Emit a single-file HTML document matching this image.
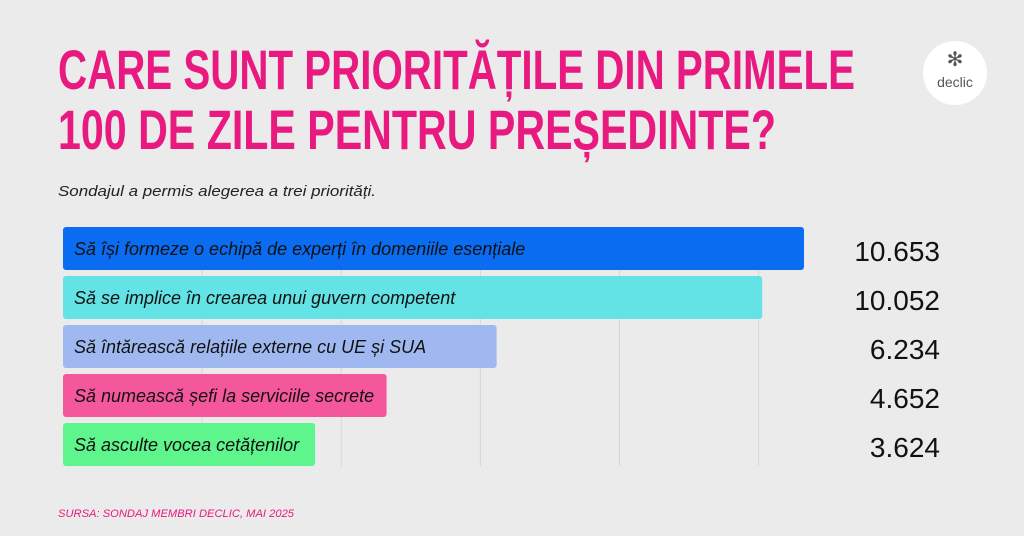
<!DOCTYPE html>
<html><head><meta charset="utf-8">
<style>
html,body{margin:0;padding:0;background:#ebebeb;}
svg{display:block;}
</style></head>
<body>
<svg id="chart" width="1024" height="536" xmlns="http://www.w3.org/2000/svg" font-family="'Liberation Sans', sans-serif">
<rect width="1024" height="536" fill="#ebebeb"/>
<text x="58" y="89" font-size="56" font-weight="bold" fill="#e8197f" textLength="797" lengthAdjust="spacingAndGlyphs">CARE SUNT PRIORITĂȚILE DIN PRIMELE</text>
<text x="58" y="149" font-size="56" font-weight="bold" fill="#e8197f" textLength="718" lengthAdjust="spacingAndGlyphs">100 DE ZILE PENTRU PREȘEDINTE?</text>
<text x="58" y="196" font-size="15" font-style="italic" fill="#222" textLength="318" lengthAdjust="spacingAndGlyphs">Sondajul a permis alegerea a trei priorități.</text>
<g>
<circle cx="955" cy="73" r="32" fill="#fff"/>
<text x="955" y="66" font-size="20" text-anchor="middle" fill="#555">✻</text>
<text x="955" y="87" font-size="14" text-anchor="middle" fill="#555">declic</text>
</g>
<g id="grid"></g>
<g id="bars"></g>
<text x="58" y="517" font-size="11" font-style="italic" fill="#e8197f" textLength="236" lengthAdjust="spacingAndGlyphs">SURSA: SONDAJ MEMBRI DECLIC, MAI 2025</text>
</svg>
<script>
const categories=["Să își formeze o echipă de experți în domeniile esențiale","Să se implice în crearea unui guvern competent","Să întărească relațiile externe cu UE și SUA","Să numească șefi la serviciile secrete","Să asculte vocea cetățenilor"];
const values=[10653,10052,6234,4652,3624];
const valueLabels=["10.653","10.052","6.234","4.652","3.624"];
const gridTicks=[2000,4000,6000,8000,10000];
const colors=["#0a6cf0","#63e3e6","#9fb9f0","#f5579c","#5ef58c"];
const NS="http://www.w3.org/2000/svg";
const x0=63,k=741/10653,top0=227,step=49,bh=43;
const xs=v=>x0+v*k;
const grid=document.getElementById('grid'),bars=document.getElementById('bars');
gridTicks.forEach(t=>{
 const l=document.createElementNS(NS,'line');
 l.setAttribute('x1',xs(t));l.setAttribute('x2',xs(t));l.setAttribute('y1',top0);l.setAttribute('y2',top0+step*4+bh);
 l.setAttribute('stroke','#d6d6d6');l.setAttribute('stroke-width','1');
 
 
 grid.appendChild(l);
});
values.forEach((v,i)=>{
 const y=top0+i*step;
 const r=document.createElementNS(NS,'rect');
 r.setAttribute('x',x0);r.setAttribute('y',y);r.setAttribute('width',xs(v)-x0);r.setAttribute('height',bh);r.setAttribute('rx','3');r.setAttribute('fill',colors[i]);
 
 
 bars.appendChild(r);
 const t=document.createElementNS(NS,'text');
 t.setAttribute('x',x0+11);t.setAttribute('y',y+28);t.setAttribute('font-size','18');t.setAttribute('font-style','italic');t.setAttribute('fill','#111');
 t.textContent=categories[i];
 
 
 bars.appendChild(t);
 const vl=document.createElementNS(NS,'text');
 vl.setAttribute('x',940);vl.setAttribute('y',y+34);vl.setAttribute('font-size','28');vl.setAttribute('text-anchor','end');vl.setAttribute('fill','#111');
 vl.textContent=valueLabels[i];
 
 
 bars.appendChild(vl);
});
</script>
</body></html>
